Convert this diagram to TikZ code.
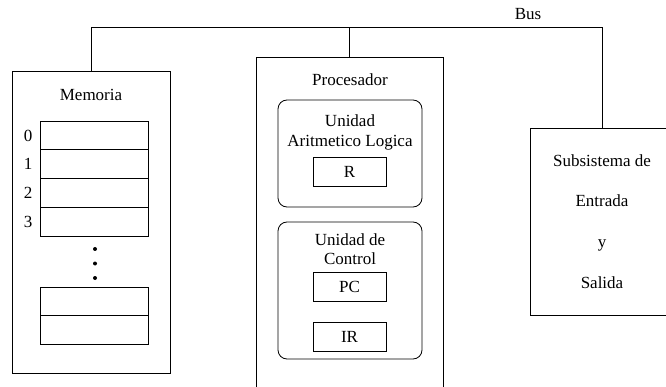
\documentclass[tikz,border=0pt]{standalone}
\usepackage{fontspec}
\setmainfont{Liberation Serif}
\tikzset{
  caja/.style={draw,line width=0.8pt,inner sep=0pt},
  unidad/.style={caja,rounded corners=9pt,minimum width=144pt},
  celda/.style={caja,minimum width=108pt,minimum height=28.7pt},
  registro/.style={caja,minimum width=73pt,minimum height=29pt}
}
\begin{document}
\begin{tikzpicture}[x=1pt,y=-1pt,font=\fontsize{17}{20}\selectfont]
      \useasboundingbox (0,0) rectangle (666,387);
      \clip (0,0) rectangle (666,387);
      % bloques principales
      \node[caja,minimum width=158pt,minimum height=302pt] (mem) at (91,222) {};
      \node[caja,minimum width=187pt,minimum height=343pt] (proc) at (349.5,228.5) {};
      \node[caja,minimum width=144pt,minimum height=187pt] (es) at (602,221.5) {};
      \draw
        (91,95) node (memtit){Memoria}
        (350,80) node (proctit){Procesador}
        (528,14) node (buslbl){Bus};
      % celdas de memoria
      \foreach \i in {0,...,3} {
        \node[celda] (c\i) at (94,135.5+28.7*\i) {};
        \node at (28,135.5+28.7*\i) {\i};
      }
      \node[celda] (c4) at (94,301.5) {};
      \node[celda] (c5) at (94,330.2) {};
      \foreach \y in {249,263.5,278}
        \fill (95,\y) circle (2pt);
      % unidad aritmetico logica
      \node[unidad,minimum height=107pt] (alu) at (350,153.5) {};
      \node[align=center,font=\fontsize{17}{20}\selectfont] (alutit) at (350,132) {Unidad\\Aritmetico Logica};
      \node[registro] (R) at (349.5,171.5) {R};
      % unidad de control
      \node[unidad,minimum height=137pt] (uc) at (350,290.5) {};
      \node[align=center,font=\fontsize{17}{19}\selectfont] (uctit) at (350,249.5) {Unidad de\\Control};
      \node[registro] (PC) at (349.5,286.5) {PC};
      \node[registro] (IR) at (349.5,337) {IR};
      % entrada y salida
      \node[align=center,font=\fontsize{17}{40.7}\selectfont] (estit) at (602,221.5)
        {Subsistema de\\Entrada\\y\\Salida};
      % bus
      \coordinate (busl) at (91,27);
      \coordinate (busr) at (602,27);
      \begin{scope}[line width=0.8pt]
        \draw (mem.north) -- (busl) -- (busr) -- (es.north);
        \draw (proc.north) -- (proc.north |- busl);
      \end{scope}
    \end{tikzpicture}
\end{document}
